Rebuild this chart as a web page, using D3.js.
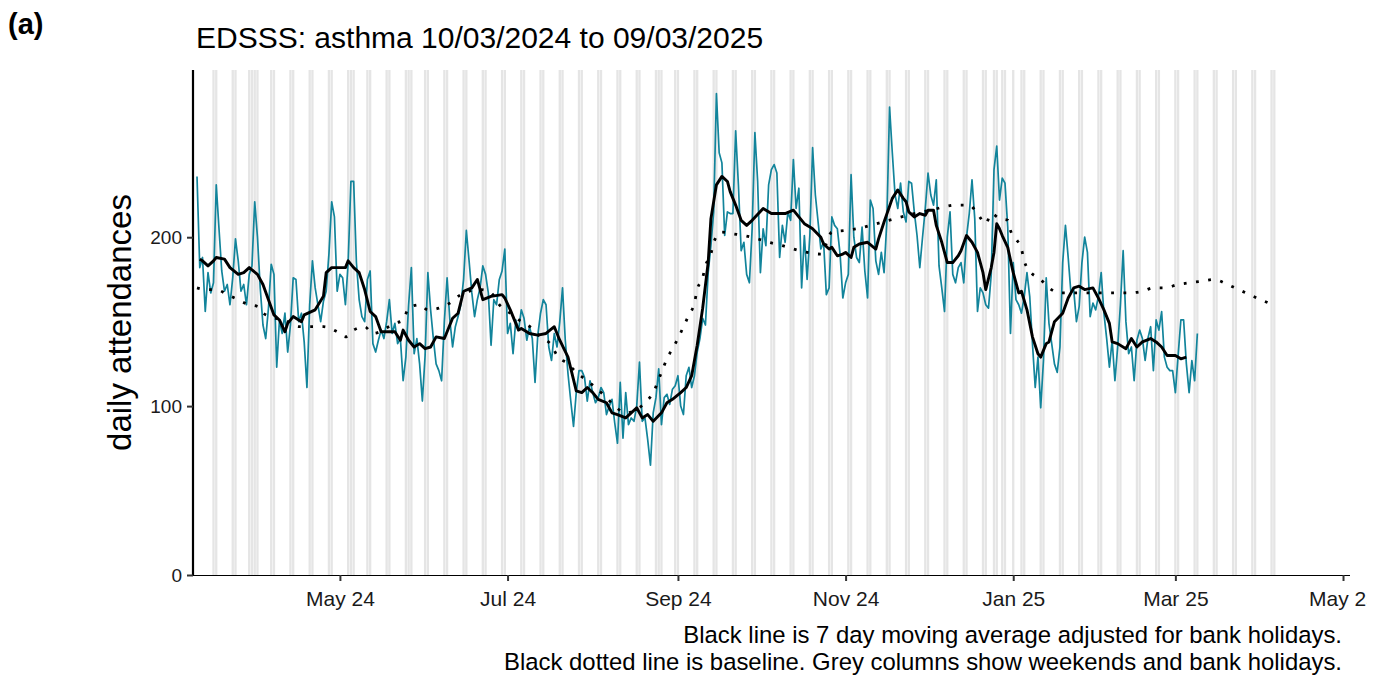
<!DOCTYPE html>
<html>
<head>
<meta charset="utf-8">
<script src="https://cdn.jsdelivr.net/npm/d3@7"></script>
<style>
  body { margin: 0; background: #fff; }
  svg text { font-family: "Liberation Sans", Arial, sans-serif; }
</style>
</head>
<body>
<svg id="chart" width="1384" height="676"></svg>
<script>
// daily attendances, one value per day from FIRST_DAY (weeks start on Sunday)
const FIRST_DAY = "2024-03-10";
const dailyCounts = [
  236, 182, 188, 156, 179, 167, 173,
  231, 205, 180, 168, 172, 160, 176,
  199, 186, 168, 172, 160, 178, 183,
  221, 200, 170, 148, 140, 158, 184,
  178, 123, 151, 143, 155, 132, 148,
  176, 175, 150, 155, 138, 111, 160,
  186, 170, 160, 150, 162, 168, 190,
  221, 212, 168, 178, 176, 160, 185,
  233, 233, 185, 163, 153, 150, 175,
  180, 137, 132, 139, 145, 140, 150,
  163, 143, 149, 137, 140, 115, 129,
  160, 182, 131, 140, 125, 103, 130,
  179, 157, 140, 125, 121, 115, 150,
  176, 151, 135, 147, 153, 160, 175,
  204, 186, 167, 153, 163, 170, 183,
  178, 167, 136, 163, 160, 175, 180,
  193, 143, 149, 131, 151, 145, 157,
  152, 139, 147, 140, 114, 142, 155,
  163, 160, 135, 127, 143, 135, 150,
  170, 139, 119, 103, 88, 108, 121,
  121, 117, 103, 115, 108, 102, 105,
  111, 108, 95, 100, 104, 90, 78,
  114, 81, 108, 89, 93, 91, 100,
  126, 91, 93, 80, 65, 96, 105,
  122, 89, 105, 107, 101, 110, 112,
  118, 100, 95, 118, 123, 111, 118,
  132, 140, 152, 148, 179, 195, 215,
  285, 250, 244, 201, 215, 214, 214,
  263, 231, 192, 197, 178, 173, 205,
  262, 233, 179, 205, 195, 231, 240,
  243, 238, 188, 207, 197, 215, 210,
  246, 217, 229, 170, 201, 175, 201,
  253, 225, 209, 193, 197, 166, 170,
  212, 207, 205, 190, 164, 173, 178,
  237, 200, 188, 185, 206, 180, 164,
  222, 217, 186, 178, 191, 179, 209,
  277, 250, 225, 217, 232, 215, 209,
  233, 232, 215, 201, 182, 200, 217,
  238, 225, 219, 234, 183, 170, 156,
  200, 215, 178, 173, 182, 185, 173,
  200, 214, 234, 211, 156, 170, 167,
  160, 158, 178, 240, 254, 222, 235,
  232, 206, 143, 185, 163, 160, 155,
  165, 179, 165, 137, 111, 129, 99,
  127, 176, 149, 137, 125, 120, 135,
  185, 207, 188, 167, 169, 150, 159,
  185, 200, 191, 153, 161, 157, 165,
  179, 155, 140, 123, 139, 115, 135,
  160, 192, 150, 131, 135, 115, 139,
  145, 140, 127, 140, 147, 121, 151,
  145, 156, 129, 123, 121, 121, 108,
  130, 151, 151, 125, 108, 127, 115,
  143
];

// 7 day moving average
const movingAverage = [
  ["2024-03-11", 187], ["2024-03-12", 186], ["2024-03-14", 183], ["2024-03-16", 186],
  ["2024-03-17", 188], ["2024-03-20", 187], ["2024-03-22", 182], ["2024-03-25", 178],
  ["2024-03-27", 179], ["2024-03-29", 182], ["2024-04-01", 178], ["2024-04-03", 172],
  ["2024-04-05", 163], ["2024-04-07", 154], ["2024-04-09", 151], ["2024-04-11", 144],
  ["2024-04-12", 149], ["2024-04-14", 153], ["2024-04-17", 150], ["2024-04-18", 154],
  ["2024-04-22", 157], ["2024-04-25", 165], ["2024-04-26", 179], ["2024-04-28", 182],
  ["2024-05-01", 182], ["2024-05-03", 182], ["2024-05-04", 186], ["2024-05-06", 182],
  ["2024-05-08", 179], ["2024-05-10", 169], ["2024-05-12", 156], ["2024-05-14", 153],
  ["2024-05-16", 144], ["2024-05-19", 144], ["2024-05-21", 144], ["2024-05-23", 139],
  ["2024-05-24", 145], ["2024-05-26", 139], ["2024-05-28", 135], ["2024-05-30", 137],
  ["2024-06-01", 134], ["2024-06-03", 135], ["2024-06-05", 141], ["2024-06-08", 140],
  ["2024-06-11", 152], ["2024-06-13", 155], ["2024-06-15", 168], ["2024-06-18", 170],
  ["2024-06-20", 175], ["2024-06-22", 163], ["2024-06-25", 165], ["2024-06-29", 166],
  ["2024-06-30", 164], ["2024-07-02", 157], ["2024-07-05", 145], ["2024-07-06", 146],
  ["2024-07-09", 143], ["2024-07-12", 142], ["2024-07-15", 143], ["2024-07-18", 147],
  ["2024-07-20", 139], ["2024-07-23", 129], ["2024-07-26", 109], ["2024-07-28", 108],
  ["2024-07-30", 111], ["2024-08-01", 108], ["2024-08-03", 104], ["2024-08-06", 102],
  ["2024-08-08", 96], ["2024-08-10", 95], ["2024-08-13", 93], ["2024-08-15", 96],
  ["2024-08-17", 99], ["2024-08-19", 93], ["2024-08-21", 95], ["2024-08-23", 91],
  ["2024-08-26", 96], ["2024-08-28", 102], ["2024-08-30", 104], ["2024-09-02", 108],
  ["2024-09-04", 111], ["2024-09-06", 118], ["2024-09-08", 136], ["2024-09-10", 158],
  ["2024-09-12", 185], ["2024-09-13", 211], ["2024-09-15", 231], ["2024-09-17", 236],
  ["2024-09-19", 233], ["2024-09-20", 227], ["2024-09-22", 219], ["2024-09-24", 210],
  ["2024-09-26", 207], ["2024-09-28", 210], ["2024-10-02", 217], ["2024-10-05", 214],
  ["2024-10-07", 214], ["2024-10-10", 214], ["2024-10-13", 216], ["2024-10-15", 212],
  ["2024-10-17", 208], ["2024-10-19", 206], ["2024-10-20", 205], ["2024-10-23", 200],
  ["2024-10-24", 196], ["2024-10-26", 193], ["2024-10-27", 194], ["2024-10-29", 189],
  ["2024-10-31", 190], ["2024-11-01", 191], ["2024-11-03", 188], ["2024-11-04", 194],
  ["2024-11-06", 196], ["2024-11-09", 197], ["2024-11-12", 193], ["2024-11-13", 199],
  ["2024-11-15", 209], ["2024-11-18", 223], ["2024-11-20", 228], ["2024-11-22", 223],
  ["2024-11-23", 221], ["2024-11-24", 215], ["2024-11-26", 212], ["2024-11-28", 214],
  ["2024-11-30", 213], ["2024-12-01", 216], ["2024-12-03", 216], ["2024-12-04", 207],
  ["2024-12-06", 197], ["2024-12-08", 185], ["2024-12-10", 185], ["2024-12-12", 189],
  ["2024-12-13", 192], ["2024-12-15", 201], ["2024-12-17", 197], ["2024-12-19", 191],
  ["2024-12-21", 179], ["2024-12-22", 169], ["2024-12-24", 182], ["2024-12-25", 191],
  ["2024-12-26", 208], ["2024-12-27", 205], ["2024-12-28", 201], ["2024-12-30", 194],
  ["2025-01-01", 179], ["2025-01-03", 167], ["2025-01-04", 168], ["2025-01-06", 157],
  ["2025-01-08", 141], ["2025-01-10", 131], ["2025-01-11", 129], ["2025-01-13", 137],
  ["2025-01-14", 138], ["2025-01-16", 150], ["2025-01-19", 155], ["2025-01-21", 164],
  ["2025-01-23", 170], ["2025-01-25", 171], ["2025-01-27", 169], ["2025-01-30", 170],
  ["2025-02-01", 164], ["2025-02-03", 157], ["2025-02-05", 149], ["2025-02-06", 138],
  ["2025-02-08", 137], ["2025-02-11", 134], ["2025-02-13", 140], ["2025-02-15", 135],
  ["2025-02-17", 138], ["2025-02-20", 140], ["2025-02-22", 138], ["2025-02-24", 135],
  ["2025-02-26", 130], ["2025-03-01", 130], ["2025-03-03", 128], ["2025-03-05", 129]
];

// baseline (dotted line)
const baseline = [
  ["2024-03-10", 170], ["2024-03-13", 169], ["2024-03-17", 169], ["2024-03-21", 166],
  ["2024-03-25", 163], ["2024-03-29", 160], ["2024-04-01", 159], ["2024-04-03", 155],
  ["2024-04-12", 150], ["2024-04-16", 147], ["2024-04-25", 147], ["2024-04-30", 144],
  ["2024-05-03", 141], ["2024-05-06", 145], ["2024-05-10", 147], ["2024-05-13", 143],
  ["2024-05-21", 149], ["2024-05-24", 151], ["2024-05-26", 158], ["2024-05-30", 160],
  ["2024-06-02", 157], ["2024-06-06", 158], ["2024-06-10", 161], ["2024-06-14", 166],
  ["2024-06-21", 169], ["2024-06-25", 167], ["2024-06-28", 160], ["2024-07-02", 155],
  ["2024-07-06", 150], ["2024-07-10", 146], ["2024-07-13", 141], ["2024-07-17", 136],
  ["2024-07-19", 130], ["2024-07-23", 125], ["2024-07-26", 120], ["2024-07-30", 115],
  ["2024-08-02", 111], ["2024-08-06", 105], ["2024-08-09", 100], ["2024-08-13", 96],
  ["2024-08-17", 98], ["2024-08-20", 102], ["2024-08-23", 108], ["2024-08-26", 120],
  ["2024-08-28", 128], ["2024-08-30", 134], ["2024-09-01", 140], ["2024-09-03", 147],
  ["2024-09-05", 154], ["2024-09-07", 161], ["2024-09-08", 169], ["2024-09-10", 176],
  ["2024-09-11", 183], ["2024-09-13", 190], ["2024-09-14", 197], ["2024-09-17", 203],
  ["2024-09-21", 202], ["2024-09-25", 201], ["2024-09-30", 199], ["2024-10-04", 197],
  ["2024-10-09", 195], ["2024-10-13", 193], ["2024-10-18", 191], ["2024-10-23", 190],
  ["2024-10-27", 203], ["2024-11-01", 204], ["2024-11-05", 205], ["2024-11-10", 207],
  ["2024-11-19", 211], ["2024-11-26", 214], ["2024-12-02", 216], ["2024-12-07", 218],
  ["2024-12-11", 219], ["2024-12-16", 219], ["2024-12-19", 214], ["2024-12-22", 208],
  ["2024-12-24", 214], ["2024-12-27", 211], ["2024-12-30", 210], ["2024-12-31", 204],
  ["2025-01-02", 199], ["2025-01-04", 193], ["2025-01-05", 186], ["2025-01-07", 180],
  ["2025-01-11", 175], ["2025-01-14", 170], ["2025-01-18", 167], ["2025-01-24", 167],
  ["2025-01-29", 167], ["2025-02-03", 167], ["2025-02-07", 167], ["2025-02-12", 167],
  ["2025-02-17", 168], ["2025-02-21", 170], ["2025-02-25", 170], ["2025-03-02", 172],
  ["2025-03-06", 173], ["2025-03-11", 174], ["2025-03-15", 175], ["2025-03-20", 172],
  ["2025-03-24", 169], ["2025-03-28", 166], ["2025-04-01", 163], ["2025-04-04", 161]
];

const bankHolidays = [
  "2024-03-29", "2024-04-01", "2024-05-06", "2024-05-27", "2024-08-26",
  "2024-12-25", "2024-12-26", "2025-01-01"
];
const shadeFrom = "2024-03-11";
const shadeTo = "2025-04-06";

const xTickDates = ["2024-05-01", "2024-07-01", "2024-09-01", "2024-11-01",
                    "2025-01-01", "2025-03-01", "2025-05-01"];
const yTicks = [0, 100, 200];

const TITLE = "EDSSS: asthma 10/03/2024 to 09/03/2025";
const Y_LABEL = "daily attendances";
const CAPTION = [
  "Black line is 7 day moving average adjusted for bank holidays.",
  "Black dotted line is baseline. Grey columns show weekends and bank holidays."
];

const TEAL = "#12849b";
const GREY = "#e5e5e5";

const parse = d3.utcParse("%Y-%m-%d");
const margin = { top: 70, right: 34, bottom: 101, left: 193 };
const width = 1384, height = 676;

const svg = d3.select("#chart");

// the figure is cut just past the last tick
svg.append("defs").append("clipPath")
  .attr("id", "figClip")
  .append("rect")
  .attr("x", 0).attr("y", 0)
  .attr("width", 1367).attr("height", height);

const x = d3.scaleUtc()
  .domain([new Date(Date.UTC(2024, 2, 8, 13)), new Date(Date.UTC(2025, 4, 3, 13))])
  .range([margin.left, width - margin.right]);

const y = d3.scaleLinear()
  .domain([0, 299])
  .range([height - margin.bottom, margin.top]);

const dayW = x(d3.utcDay.offset(parse(FIRST_DAY), 1)) - x(parse(FIRST_DAY));

// grey columns for weekends and bank holidays
const holidaySet = new Set(bankHolidays);
const fmt = d3.utcFormat("%Y-%m-%d");
const shadedDays = d3.utcDay.range(parse(shadeFrom), d3.utcDay.offset(parse(shadeTo), 1))
  .filter(d => d.getUTCDay() === 0 || d.getUTCDay() === 6 || holidaySet.has(fmt(d)));

svg.append("g")
  .selectAll("rect")
  .data(shadedDays)
  .join("rect")
  .attr("x", d => x(d) - dayW * 0.42)
  .attr("width", dayW * 0.84)
  .attr("y", margin.top)
  .attr("height", y(0) - margin.top)
  .attr("fill", GREY);

// daily series
const daily = dailyCounts.map((v, i) => ({ date: d3.utcDay.offset(parse(FIRST_DAY), i), value: v }));

svg.append("path")
  .datum(daily)
  .attr("fill", "none")
  .attr("stroke", TEAL)
  .attr("stroke-width", 1.7)
  .attr("stroke-linejoin", "round")
  .attr("d", d3.line().x(d => x(d.date)).y(d => y(d.value)));

// baseline
svg.append("path")
  .datum(baseline)
  .attr("fill", "none")
  .attr("stroke", "#000")
  .attr("stroke-width", 2.8)
  .attr("stroke-dasharray", "2.8 9.5")
  .attr("d", d3.line().curve(d3.curveMonotoneX).x(d => x(parse(d[0]))).y(d => y(d[1])));

// moving average
svg.append("path")
  .datum(movingAverage)
  .attr("fill", "none")
  .attr("stroke", "#000")
  .attr("stroke-width", 2.9)
  .attr("stroke-linejoin", "round")
  .attr("d", d3.line().x(d => x(parse(d[0]))).y(d => y(d[1])));

// axes
const xAxis = svg.append("g")
  .attr("transform", `translate(0,${y(0)})`)
  .call(d3.axisBottom(x)
    .tickValues(xTickDates.map(parse))
    .tickFormat(d3.utcFormat("%b %y"))
    .tickSize(6)
    .tickPadding(10));

const yAxis = svg.append("g")
  .attr("transform", `translate(${margin.left},0)`)
  .call(d3.axisLeft(y)
    .tickValues(yTicks)
    .tickSize(6)
    .tickPadding(5));

[xAxis, yAxis].forEach(g => {
  g.select(".domain").attr("stroke", "#000").attr("stroke-width", 2.2);
  g.selectAll(".tick line").attr("stroke", "#333").attr("stroke-width", 2);
  g.selectAll(".tick text")
    .attr("fill", "#1a1a1a")
    .attr("font-size", 21)
    .style("font-family", "'Liberation Sans', Arial, sans-serif");
});
yAxis.selectAll(".tick text").attr("font-size", 19);
xAxis.select(".domain").attr("d", `M${margin.left},0H${width - margin.right}`);
yAxis.select(".domain").attr("d", `M0,${margin.top}V${y(0)}`);
xAxis.attr("clip-path", "url(#figClip)");

// labels
svg.append("text")
  .attr("x", 8)
  .attr("y", 34)
  .attr("font-size", 29)
  .attr("font-weight", "bold")
  .text("(a)");

svg.append("text")
  .attr("x", 196)
  .attr("y", 48)
  .attr("font-size", 30)
  .attr("fill", "#000")
  .text(TITLE);

svg.append("text")
  .attr("transform", `translate(131,${(margin.top + y(0)) / 2}) rotate(-90)`)
  .attr("text-anchor", "middle")
  .attr("font-size", 33)
  .text(Y_LABEL);

svg.append("g")
  .selectAll("text")
  .data(CAPTION)
  .join("text")
  .attr("x", 1342)
  .attr("y", (d, i) => 643 + i * 27)
  .attr("text-anchor", "end")
  .attr("font-size", 23.9)
  .text(d => d);
</script>
</body>
</html>
